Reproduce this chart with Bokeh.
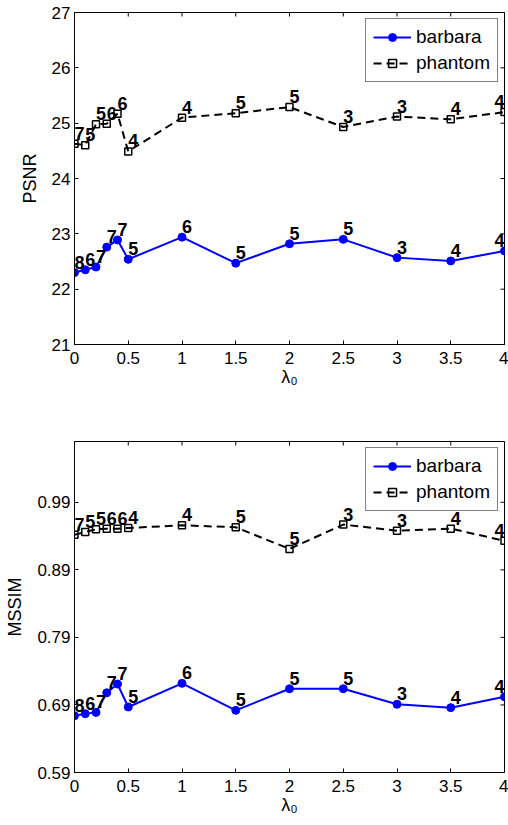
import math
from bokeh.plotting import figure
from bokeh.layouts import column
from bokeh.core.properties import value
from bokeh.models import (ColumnDataSource, LabelSet, FixedTicker, Range1d,
                          Legend, LegendItem, NumeralTickFormatter)
from bokeh.embed import file_html
from bokeh.resources import INLINE

# ---------------- data ----------------
lam = [0, 0.1, 0.2, 0.3, 0.4, 0.5, 1, 1.5, 2, 2.5, 3, 3.5, 4]
x_ticks = [0, 0.5, 1, 1.5, 2, 2.5, 3, 3.5, 4]

psnr_barbara = [22.30, 22.35, 22.40, 22.76, 22.89, 22.54, 22.94, 22.47, 22.82, 22.90, 22.57, 22.51, 22.69]
psnr_phantom = [24.63, 24.60, 24.98, 24.99, 25.17, 24.49, 25.10, 25.18, 25.29, 24.93, 25.12, 25.07, 25.20]
psnr_iter_barbara = [8, 6, 7, 7, 7, 5, 6, 5, 5, 5, 3, 4, 4]
psnr_iter_phantom = [7, 5, 5, 6, 6, 4, 4, 5, 5, 3, 3, 4, 4]
psnr_ticks = [21, 22, 23, 24, 25, 26, 27]

mssim_barbara = [0.674, 0.677, 0.679, 0.708, 0.721, 0.687, 0.722, 0.682, 0.714, 0.714, 0.691, 0.686, 0.702]
mssim_phantom = [0.942, 0.946, 0.950, 0.951, 0.951, 0.952, 0.956, 0.953, 0.921, 0.957, 0.948, 0.951, 0.933]
mssim_iter_barbara = [8, 6, 7, 7, 7, 5, 6, 5, 5, 5, 3, 4, 4]
mssim_iter_phantom = [7, 5, 5, 6, 6, 4, 4, 5, 5, 3, 3, 4, 4]
mssim_ticks = [0.59, 0.69, 0.79, 0.89, 0.99]

series_names = ["barbara", "phantom"]
x_label = "λ₀"

FONT = "Liberation Sans"
BLUE = "#0000ff"


def style_axis(ax):
    ax.major_tick_in = 4
    ax.major_tick_out = 0
    ax.minor_tick_line_color = None
    ax.major_tick_line_color = "black"
    ax.major_tick_line_width = 1
    ax.axis_line_color = "black"
    ax.major_label_text_font = FONT
    ax.major_label_text_color = "black"
    ax.major_label_text_font_size = "17px"
    ax.axis_label_text_font = FONT
    ax.axis_label_text_font_style = "normal"
    ax.axis_label_text_font_size = "18px"
    ax.axis_label_text_color = "black"


def make_panel(height, top, bottom, ylo, yhi, yticks, ylab, yfmt,
               barbara, phantom, it_b, it_p):
    p = figure(width=508, height=height, output_backend="svg", toolbar_location=None,
               x_range=Range1d(0, 4), y_range=Range1d(ylo, yhi),
               min_border_left=74, min_border_right=4,
               min_border_top=top, min_border_bottom=bottom)
    p.outline_line_color = "black"
    p.outline_line_width = 1
    p.grid.visible = False
    p.background_fill_color = "white"
    p.border_fill_color = "white"

    xa = p.xaxis[0]
    ya = p.yaxis[0]
    xa.ticker = FixedTicker(ticks=x_ticks)
    xa.formatter = NumeralTickFormatter(format="0.[0]")
    ya.ticker = FixedTicker(ticks=yticks)
    ya.formatter = NumeralTickFormatter(format=yfmt)
    style_axis(xa)
    style_axis(ya)
    xa.major_label_standoff = 7
    ya.major_label_standoff = 4
    xa.axis_label = x_label
    xa.axis_label_standoff = 0
    ya.axis_label = ylab
    ya.axis_label_standoff = 9

    # inward ticks on the top and right edges of the box (half of each dash is clipped)
    p.scatter(x=x_ticks, y=[yhi] * len(x_ticks), marker="dash", size=8,
              angle=math.pi / 2, line_color="black", line_width=1)
    p.scatter(x=[4] * len(yticks), y=yticks, marker="dash", size=8,
              line_color="black", line_width=1)

    n = len(lam)
    align = ["left"] * (n - 1) + ["right"]
    src_b = ColumnDataSource(dict(x=lam, y=barbara, t=[str(v) for v in it_b], a=align))
    src_p = ColumnDataSource(dict(x=lam, y=phantom, t=[str(v) for v in it_p], a=align))

    rb = p.line("x", "y", source=src_b, line_color=BLUE, line_width=2)
    cb = p.scatter("x", "y", source=src_b, marker="circle", size=8,
                   fill_color=BLUE, line_color=BLUE)
    rp = p.line("x", "y", source=src_p, line_color="black", line_width=2, line_dash="8 5")
    sp = p.scatter("x", "y", source=src_p, marker="square", size=7,
                   fill_color=None, line_color="black", line_width=1.5)

    for src in (src_b, src_p):
        p.add_layout(LabelSet(x="x", y="y", text="t", source=src, text_align="a",
                              text_font=value(FONT), text_font_style="bold",
                              text_font_size="18px", text_color="black",
                              text_baseline="alphabetic", y_offset=4))

    legend = Legend(items=[LegendItem(label=series_names[0], renderers=[rb, cb]),
                           LegendItem(label=series_names[1], renderers=[rp, sp])],
                    location="top_right")
    legend.margin = 6
    legend.padding = 7
    legend.spacing = 4
    legend.glyph_width = 38
    legend.glyph_height = 20
    legend.label_height = 20
    legend.label_standoff = 5
    legend.label_text_font = FONT
    legend.label_text_font_size = "19px"
    legend.label_text_color = "black"
    legend.border_line_color = "black"
    legend.border_line_width = 1
    legend.background_fill_color = "white"
    legend.background_fill_alpha = 1
    p.add_layout(legend)
    return p


p1 = make_panel(412, 12, 68, 21, 27, psnr_ticks, "PSNR", "0",
                psnr_barbara, psnr_phantom, psnr_iter_barbara, psnr_iter_phantom)
p2 = make_panel(413, 29, 53, 0.59, 1.08, mssim_ticks, "MSSIM", "0.00",
                mssim_barbara, mssim_phantom, mssim_iter_barbara, mssim_iter_phantom)

layout = column(p1, p2, spacing=0)
open("out.html", "w").write(file_html(layout, INLINE))
